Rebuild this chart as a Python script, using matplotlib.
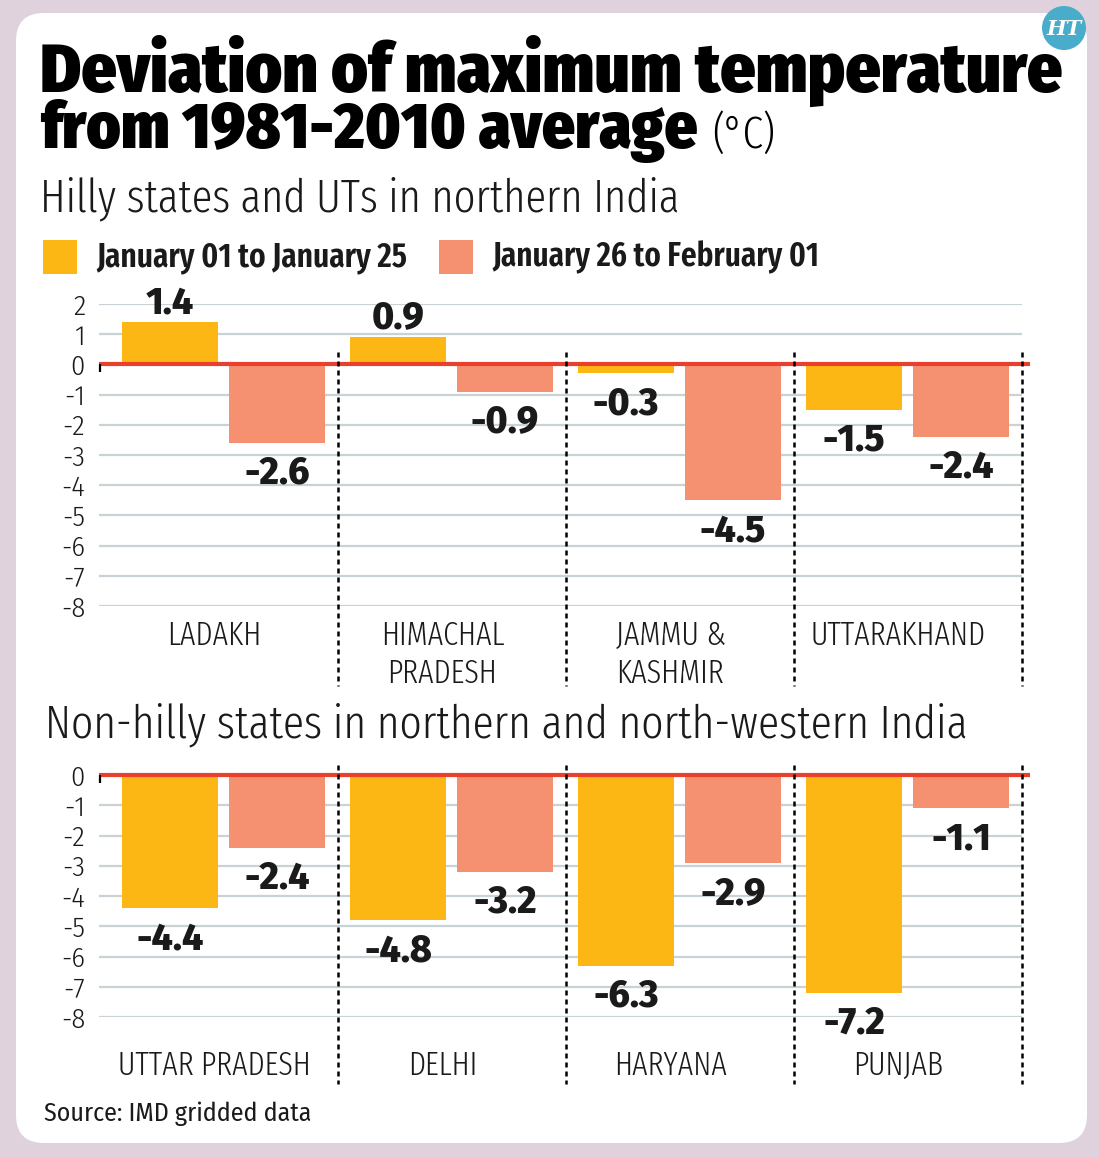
import matplotlib
matplotlib.use("Agg")
import matplotlib.pyplot as plt
from matplotlib.patches import FancyBboxPatch, Circle, Rectangle
from matplotlib.transforms import blended_transform_factory

# ---------------- data ----------------
hilly_states = ["LADAKH", "HIMACHAL\nPRADESH", "JAMMU &\nKASHMIR", "UTTARAKHAND"]
hilly_jan = [1.4, 0.9, -0.3, -1.5]
hilly_feb = [-2.6, -0.9, -4.5, -2.4]

plain_states = ["UTTAR PRADESH", "DELHI", "HARYANA", "PUNJAB"]
plain_jan = [-4.4, -4.8, -6.3, -7.2]
plain_feb = [-2.4, -3.2, -2.9, -1.1]

series_names = ["January 01 to January 25", "January 26 to February 01"]
hilly_yticks = [2, 1, 0, -1, -2, -3, -4, -5, -6, -7, -8]
plain_yticks = [0, -1, -2, -3, -4, -5, -6, -7, -8]

# ---------------- style ----------------
W, H = 1099, 1158
BG = "#e0d2dc"
YELLOW = "#fdb714"
ORANGE = "#f59171"
RED = "#e8402c"
GRID = "#c8d2d7"
TXT = "#1a1a1a"
XC = "Fira Sans Extra Condensed"
C = "Fira Sans Condensed"
F = "Fira Sans"

fig = plt.figure(figsize=(W / 100, H / 100), dpi=100, facecolor=BG)
renderer = fig.canvas.get_renderer()


def P(px, py):
    return px / W, 1 - py / H


def ftext(px, py, s, target_w=None, **kw):
    kw.setdefault("va", "baseline")
    kw.setdefault("ha", "left")
    kw.setdefault("color", TXT)
    t = fig.text(*P(px, py), s, **kw)
    if target_w is not None:
        for _ in range(3):
            bb = t.get_window_extent(renderer)
            t.set_fontsize(t.get_fontsize() * target_w / bb.width)
    return t


# white rounded panel (in inches)
panel = FancyBboxPatch((16 / 100, (H - 1143) / 100), (1087 - 16) / 100, (1143 - 13) / 100,
                       boxstyle="round,pad=0,rounding_size=0.28",
                       transform=fig.dpi_scale_trans, facecolor="white",
                       edgecolor="none", zorder=0)
fig.add_artist(panel)

# HT logo
logo = Circle((1064 / 100, (H - 28) / 100), 0.22, transform=fig.dpi_scale_trans,
              facecolor="#4aaccb", edgecolor="none", zorder=1)
fig.add_artist(logo)
fig.text(*P(1064, 29), "HT", ha="center", va="center", color="white",
         fontsize=15, family="DejaVu Serif", weight="bold", style="italic", zorder=2)

# titles
ftext(40, 92, "Deviation of maximum temperature", target_w=1022,
      family=C, weight=900, fontsize=50, color="black")
ftext(40, 148, "from 1981-2010 average", target_w=657,
      family=C, weight=900, fontsize=50, color="black")
ftext(712, 148, "(°C)", target_w=63, family=XC, weight=300, fontsize=33, color="black")
ftext(40, 211, "Hilly states and UTs in northern India", target_w=640,
      family=XC, weight=300, fontsize=36)
ftext(45, 737, "Non-hilly states in northern and north-western India", target_w=922,
      family=XC, weight=300, fontsize=36)
ftext(44, 1121, "Source: IMD gridded data", target_w=266, family=C, weight=400, fontsize=19)

# legend
for (x0, col, name, tw) in [(43, YELLOW, series_names[0], 311), (439, ORANGE, series_names[1], 327)]:
    fig.add_artist(Rectangle((x0 / 100, (H - 274) / 100), 0.34, 0.34,
                             transform=fig.dpi_scale_trans, facecolor=col,
                             edgecolor="none", zorder=1))
    ftext(x0 + 53, 266, name, target_w=tw, family=XC, weight=600, fontsize=23)

# ---------------- axes ----------------
XL, XR = -0.546, 3.537
BW, OFF = 0.42, 0.2346


def make_axes(top_px, bot_px, ymin, ymax):
    left = 99 / W
    right = 1030 / W
    ax = fig.add_axes([left, 1 - bot_px / H, right - left, (bot_px - top_px) / H])
    ax.set_facecolor("none")
    ax.set_xlim(XL, XR)
    ax.set_ylim(ymin, ymax)
    for s in ax.spines.values():
        s.set_visible(False)
    ax.set_xticks([])
    return ax


def draw_panel(ax, states, jan, feb, yticks, dot_top, dot_bot, lab_base):
    ax.set_yticks(yticks, [str(t) for t in yticks])
    ax.tick_params(axis="y", length=0, pad=10, labelsize=20.5, labelcolor=TXT)
    for lab in ax.get_yticklabels():
        lab.set_family(C)
        lab.set_weight(300)
    ax.hlines(yticks, XL, 3.5, color=GRID, lw=1.6, zorder=1)
    x = list(range(len(states)))
    ax.bar([i - OFF for i in x], jan, width=BW, color=YELLOW, zorder=2)
    ax.bar([i + OFF for i in x], feb, width=BW, color=ORANGE, zorder=2)
    ax.hlines(0, XL, XR, color=RED, lw=3.0, zorder=4, clip_on=False)
    # small black mark at the left of the zero line
    ax.vlines(XL + 0.004, -0.25, 0, color="black", lw=1.6, zorder=5, clip_on=False)
    for i in x:
        for xv, v in ((i - OFF, jan[i]), (i + OFF, feb[i])):
            dy = 6.5 if v >= 0 else -29.5
            ax.annotate(f"{v:.1f}", (xv, v), xytext=(0, dy), textcoords="offset points",
                        ha="center", va="baseline", family=F, weight=800,
                        fontsize=27, color=TXT, zorder=6, annotation_clip=False)
    tr = blended_transform_factory(ax.transData, fig.transFigure)
    for xs in (0.5, 1.5, 2.5, 3.5):
        ax.plot([xs, xs], [1 - dot_top / H, 1 - dot_bot / H], transform=tr, color="black",
                lw=1.8, linestyle=(0, (2.0, 1.6)), clip_on=False, zorder=5)
    for i, name in enumerate(states):
        for k, line in enumerate(name.split("\n")):
            ax.text(i - 0.04, 1 - (lab_base + 38 * k) / H, line, transform=tr,
                    ha="center", va="baseline", family=XC, weight=300,
                    fontsize=23.5, color=TXT)


ax1 = make_axes(304, 606, -8, 2)
draw_panel(ax1, hilly_states, hilly_jan, hilly_feb, hilly_yticks, 352, 686, 645)

ax2 = make_axes(775, 1017, -8, 0)
draw_panel(ax2, plain_states, plain_jan, plain_feb, plain_yticks, 765, 1084, 1075)

fig.savefig("out.png", dpi=100, facecolor=BG)
